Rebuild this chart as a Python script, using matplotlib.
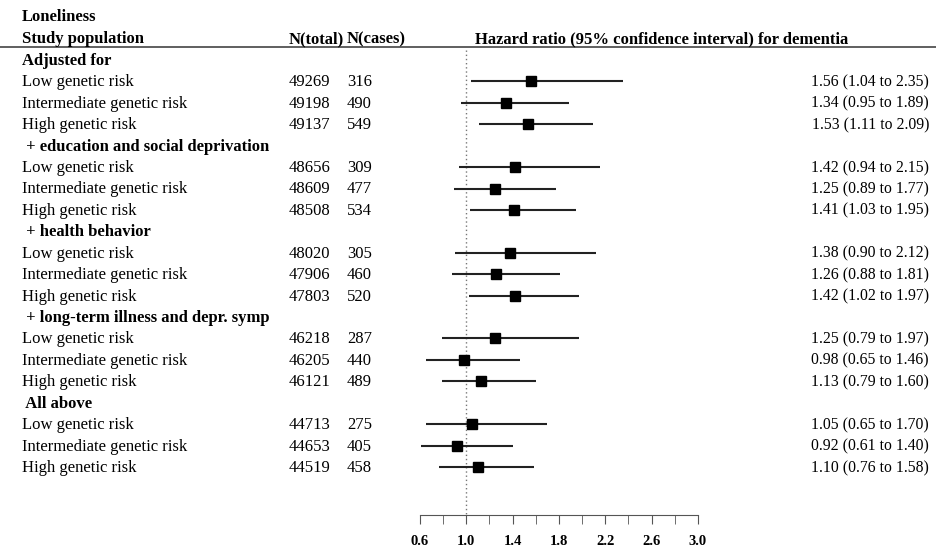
import numpy as np
import matplotlib.pyplot as plt

plt.rcParams['font.family'] = ['Liberation Serif', 'DejaVu Serif']
plt.rcParams['font.size'] = 12

# Models (section headings) and genetic risk groups
sections = ["Adjusted for", " + education and social deprivation", " + health behavior",
            " + long-term illness and depr. symp", " All above"]
groups = ["Low genetic risk", "Intermediate genetic risk", "High genetic risk"]

n_total = [49269, 49198, 49137,
           48656, 48609, 48508,
           48020, 47906, 47803,
           46218, 46205, 46121,
           44713, 44653, 44519]
n_cases = [316, 490, 549,
           309, 477, 534,
           305, 460, 520,
           287, 440, 489,
           275, 405, 458]
hr = [1.56, 1.34, 1.53,
      1.42, 1.25, 1.41,
      1.38, 1.26, 1.42,
      1.25, 0.98, 1.13,
      1.05, 0.92, 1.10]
lo = [1.04, 0.95, 1.11,
      0.94, 0.89, 1.03,
      0.90, 0.88, 1.02,
      0.79, 0.65, 0.79,
      0.65, 0.61, 0.76]
hi = [2.35, 1.89, 2.09,
      2.15, 1.77, 1.95,
      2.12, 1.81, 1.97,
      1.97, 1.46, 1.60,
      1.70, 1.40, 1.58]

ticks = [0.6, 1.0, 1.4, 1.8, 2.2, 2.6, 3.0]

fig = plt.figure(figsize=(9.36, 5.48), dpi=100)
ax = fig.add_axes([0, 0, 1, 1])
ax.set_xlim(-3.026, 5.055)
ax.set_ylim(22.78, -2.80)
for s in ["top", "left", "right"]:
    ax.spines[s].set_visible(False)
ax.set_yticks([])

# row positions: one heading then three groups per section
rows, heads = [], []
r = 0
for s in sections:
    heads.append(r)
    rows.extend([r + 1, r + 2, r + 3])
    r += 4
rows = np.array(rows)

# text columns (x in axes fraction); text sits a touch above the row centre
tx = ax.get_yaxis_transform()
xl, xn, xc, xr = 22 / 936, 289 / 936, 347 / 936, 929 / 936
va = "center_baseline"
dy = -0.05

ax.text(xl, -2.10, "Loneliness", transform=tx, fontweight="bold", va=va)
ax.text(xl, -1.07, "Study population", transform=tx, fontweight="bold", va=va)
ax.text(xn, -1.07, "N(total)", transform=tx, fontweight="bold", va=va)
ax.text(xc, -1.07, "N(cases)", transform=tx, fontweight="bold", va=va)
ax.text(662 / 936, -1.07, "Hazard ratio (95% confidence interval) for dementia",
        transform=tx, fontweight="bold", va=va, ha="center")
ax.axhline(-0.61, color="#444444", lw=1.2)

for h, s in zip(heads, sections):
    ax.text(xl, h + dy, s, transform=tx, fontweight="bold", va=va)

for i, y in enumerate(rows):
    ax.text(xl, y + dy, groups[i % 3], transform=tx, va=va)
    ax.text(xn, y + dy, str(n_total[i]), transform=tx, va=va)
    ax.text(xc, y + dy, str(n_cases[i]), transform=tx, va=va)
    ax.text(xr, y + dy, f"{hr[i]:.2f} ({lo[i]:.2f} to {hi[i]:.2f})", transform=tx,
            va=va, ha="right", fontsize=11.3)

# reference line at HR = 1
ax.plot([1.0, 1.0], [-0.45, 21.24], color="#777777", lw=1, ls=(0, (1, 2)))

ax.hlines(rows, lo, hi, color="#222222", lw=1.5)
ax.plot(hr, rows, "s", color="black", ms=7.5)

# bottom axis
ax.spines["bottom"].set_position(("data", 21.24))
ax.spines["bottom"].set_bounds(0.6, 3.0)
ax.spines["bottom"].set_color("#555555")
ax.set_xticks(ticks)
ax.set_xticks(np.arange(0.8, 3.0, 0.4), minor=True)
ax.tick_params(axis="x", which="both", direction="out", length=6.5, color="#555555", pad=8)
for t in ax.get_xticklabels():
    t.set_fontweight("bold")
    t.set_fontsize(10.5)

fig.savefig("out.png", dpi=100)
